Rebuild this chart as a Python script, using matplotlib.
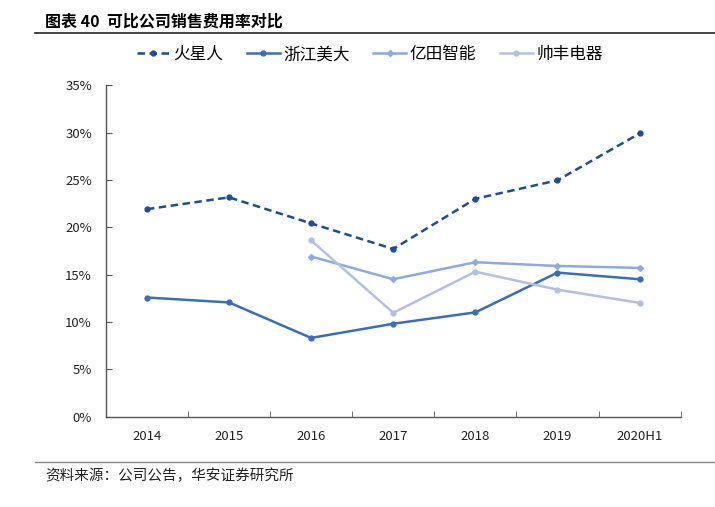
import matplotlib
matplotlib.use("Agg")
import matplotlib.pyplot as plt
from matplotlib.ticker import FuncFormatter, FixedLocator
import numpy as np

plt.rcParams['font.family'] = ['Noto Sans CJK SC', 'DejaVu Sans']

categories = ["2014", "2015", "2016", "2017", "2018", "2019", "2020H1"]
huoxingren = [21.9, 23.15, 20.4, 17.7, 23.0, 24.95, 29.9]
zhejiang_meida = [12.57, 12.05, 8.3, 9.8, 11.0, 15.2, 14.5]
yitian = [np.nan, np.nan, 16.9, 14.5, 16.3, 15.9, 15.7]
shuaifeng = [np.nan, np.nan, 18.6, 10.95, 15.3, 13.4, 12.0]

fig = plt.figure(figsize=(7.15, 5.07), dpi=100)
ax = fig.add_axes([0.148, 0.1785, 0.804, 0.6535])

x = np.arange(len(categories))
ax.plot(x, huoxingren, color='#1F4E8C', lw=1.8, ls=(0, (3, 1.8)), marker='o', ms=3.5, label='火星人')
ax.plot(x, zhejiang_meida, color='#3D6DB5', lw=1.8, marker='o', ms=3.5, label='浙江美大')
ax.plot(x, yitian, color='#8FAADC', lw=1.8, marker='D', ms=3, label='亿田智能')
ax.plot(x, shuaifeng, color='#B4C1DE', lw=1.8, marker='o', ms=3.5, label='帅丰电器')

ax.set_xlim(-0.5, len(categories) - 0.5)
ax.set_ylim(0, 35)
ax.set_yticks(np.arange(0, 36, 5))
ax.yaxis.set_major_formatter(FuncFormatter(lambda v, p: f"{int(v)}%"))
ax.set_xticks(x)
ax.set_xticklabels(categories)
ax.xaxis.set_minor_locator(FixedLocator(np.arange(-0.5, len(categories), 1.0)))
ax.tick_params(axis='x', which='major', length=0, pad=10, labelsize=9.5, colors='#222222')
ax.tick_params(axis='x', which='minor', direction='in', length=4, color='#555555')
ax.tick_params(axis='y', direction='in', length=4, labelsize=9.5, color='#555555', labelcolor='#222222', pad=10)
for s in ['top', 'right']:
    ax.spines[s].set_visible(False)
for s in ['left', 'bottom']:
    ax.spines[s].set_color('#555555')
    ax.spines[s].set_linewidth(1.0)

leg = fig.legend(loc='center', bbox_to_anchor=(0.517, 0.892), ncol=4, frameon=False,
                 fontsize=12, handlelength=2.0, columnspacing=1.4, handletextpad=0.2)

fig.text(0.063, 0.958, "图表 40  可比公司销售费用率对比", fontsize=11.5, fontweight='bold', va='center')
fig.add_artist(plt.Line2D([0.049, 1.0], [0.935, 0.935], color='#222222', lw=1.2))
fig.add_artist(plt.Line2D([0.049, 1.0], [0.089, 0.089], color='#888888', lw=1.0))
fig.text(0.063, 0.061, "资料来源：公司公告，华安证券研究所", fontsize=10.5, va='center', color='#222222')

fig.savefig("out.png", dpi=100)
